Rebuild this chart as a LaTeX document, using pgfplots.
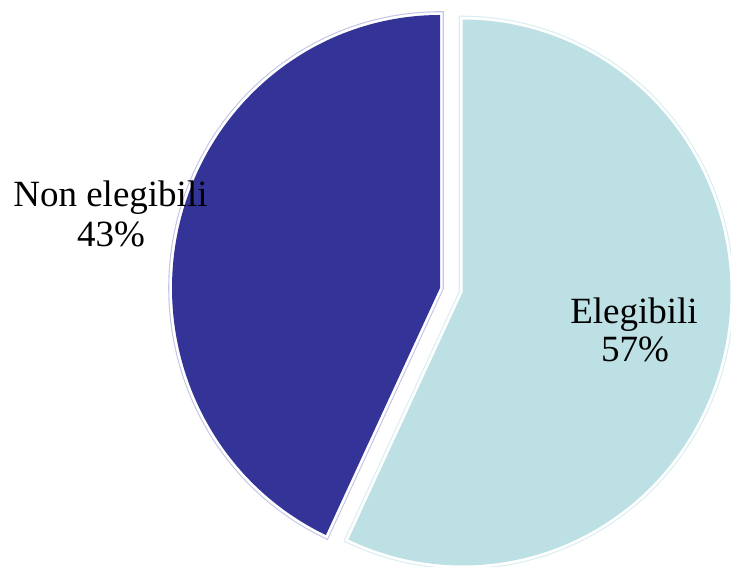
\documentclass[border=0pt]{standalone}
\usepackage{pgfplots}
\pgfplotsset{compat=1.18}
\usepackage{fontspec}
\setmainfont{Liberation Serif}
\definecolor{darkw}{HTML}{343397}
\definecolor{lightw}{HTML}{BCE0E3}
\definecolor{darkol}{HTML}{C4C4E6}
\definecolor{lightol}{HTML}{D8EEF0}
% data (percent)
\def\pctE{57}
\def\pctN{43}
\begin{document}
\begin{tikzpicture}
\begin{axis}[
  width=731pt, height=567pt, scale only axis,
  xmin=0, xmax=731, ymin=0, ymax=567,
  hide axis, clip=false,
]
\coordinate (ll) at (axis cs:0,0);
\coordinate (ur) at (axis cs:731,567);
% Elegibili wedge (clockwise from top)
\addplot[line width=7.6pt, draw=lightol, line join=miter,
  domain={90-\pctE*3.6}:90, samples=150, no marks]
  ({462.5+268*cos(x)},{274.5+273*sin(x)}) -- (axis cs:462.5,274.5) -- cycle;
\addplot[line width=5.4pt, draw=white, line join=miter,
  domain={90-\pctE*3.6}:90, samples=150, no marks,
  postaction={fill=lightw, draw=none}]
  ({462.5+268*cos(x)},{274.5+273*sin(x)}) -- (axis cs:462.5,274.5) -- cycle;
% Non elegibili wedge
\addplot[line width=7.6pt, draw=darkol, line join=miter,
  domain=90:{90+\pctN*3.6}, samples=150, no marks]
  ({440+268*cos(x)},{279+273*sin(x)}) -- (axis cs:440,279) -- cycle;
\addplot[line width=5.4pt, draw=white, line join=miter,
  domain=90:{90+\pctN*3.6}, samples=150, no marks,
  postaction={fill=darkw, draw=none}]
  ({440+268*cos(x)},{279+273*sin(x)}) -- (axis cs:440,279) -- cycle;
% labels
\node[anchor=base, font=\fontsize{37}{41}\selectfont, inner sep=0pt] at (axis cs:110.5,360) {Non elegibili};
\node[anchor=base, font=\fontsize{37}{41}\selectfont, inner sep=0pt] at (axis cs:111,320) {\pctN\%};
\node[anchor=base, font=\fontsize{37}{41}\selectfont, inner sep=0pt] at (axis cs:634,243) {Elegibili};
\node[anchor=base, font=\fontsize{37}{41}\selectfont, inner sep=0pt] at (axis cs:635,205) {\pctE\%};
\end{axis}
\pgfresetboundingbox
\path[use as bounding box] (ll) rectangle (ur);
\end{tikzpicture}
\end{document}
